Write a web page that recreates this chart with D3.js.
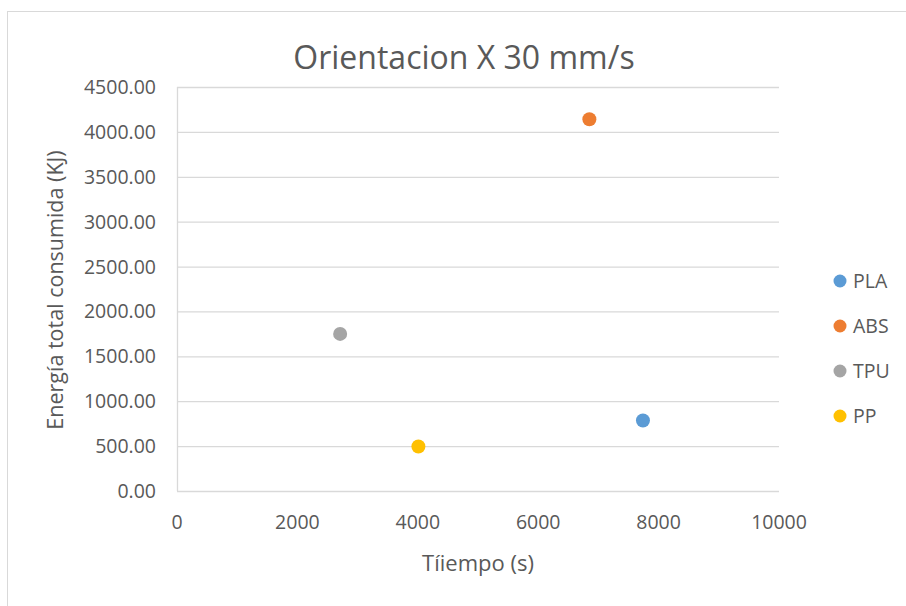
<!DOCTYPE html>
<html><head><meta charset="utf-8">
<script src="https://cdn.jsdelivr.net/npm/d3@7"></script>
<style>body{margin:0;background:#fff;font-family:"Open Sans",sans-serif;}</style>
</head><body><svg id="c" width="906" height="606"></svg>
<script>
const series = ["PLA","ABS","TPU","PP"];
const xValues = [7740, 6850, 2710, 4010];
const yValues = [785, 4140, 1750, 495];
const colors = ["#5b9bd5","#ed7d31","#a5a5a5","#ffc000"];
const xTicks = [0,2000,4000,6000,8000,10000];
const yTicks = [0,500,1000,1500,2000,2500,3000,3500,4000,4500];

const svg = d3.select("#c");
const txt = "#595959";
svg.append("rect").attr("x",7.5).attr("y",11.5).attr("width",906).attr("height",600)
  .attr("fill","#fff").attr("stroke","#d9d9d9");

const L=177,R=779,T=87,B=491;
const x = d3.scaleLinear().domain([0,10000]).range([L,R]);
const y = d3.scaleLinear().domain([0,4500]).range([B,T]);

svg.append("g").selectAll("line").data(yTicks).join("line")
  .attr("x1",L).attr("x2",R).attr("y1",d=>y(d)+0.5).attr("y2",d=>y(d)+0.5)
  .attr("stroke","#d9d9d9").attr("stroke-width",1.3);
svg.append("line").attr("x1",L+0.5).attr("x2",L+0.5).attr("y1",T).attr("y2",B)
  .attr("stroke","#d9d9d9").attr("stroke-width",1.3);

svg.append("g").selectAll("text").data(yTicks).join("text")
  .attr("x",156).attr("y",d=>y(d)).attr("dy","0.36em").attr("text-anchor","end")
  .attr("fill",txt).attr("font-size",19.5)
  .text(d=>d3.format(".2f")(d));
svg.append("g").selectAll("text").data(xTicks).join("text")
  .attr("x",d=>x(d)).attr("y",522).attr("dy","0.36em").attr("text-anchor","middle")
  .attr("fill",txt).attr("font-size",19.5).text(d=>d);

svg.append("text").attr("x",464).attr("y",57).attr("dy","0.36em").attr("text-anchor","middle")
  .attr("fill",txt).attr("font-size",32).text("Orientacion X 30 mm/s");
svg.append("text").attr("x",478).attr("y",563).attr("dy","0.36em").attr("text-anchor","middle")
  .attr("fill",txt).attr("font-size",22).text("Tíiempo (s)");
svg.append("text").attr("transform","translate(55,290) rotate(-90)").attr("dy","0.36em")
  .attr("text-anchor","middle").attr("fill",txt).attr("font-size",21.5).text("Energía total consumida (KJ)");

svg.append("g").selectAll("circle").data(series).join("circle")
  .attr("cx",(d,i)=>x(xValues[i])).attr("cy",(d,i)=>y(yValues[i])).attr("r",7)
  .attr("fill",(d,i)=>colors[i]);

const lg = svg.append("g").selectAll("g").data(series).join("g")
  .attr("transform",(d,i)=>`translate(840,${281+i*45})`);
lg.append("circle").attr("r",6.5).attr("fill",(d,i)=>colors[i]);
lg.append("text").attr("x",13).attr("dy","0.36em").attr("fill",txt).attr("font-size",19.5).text(d=>d);
</script></body></html>
